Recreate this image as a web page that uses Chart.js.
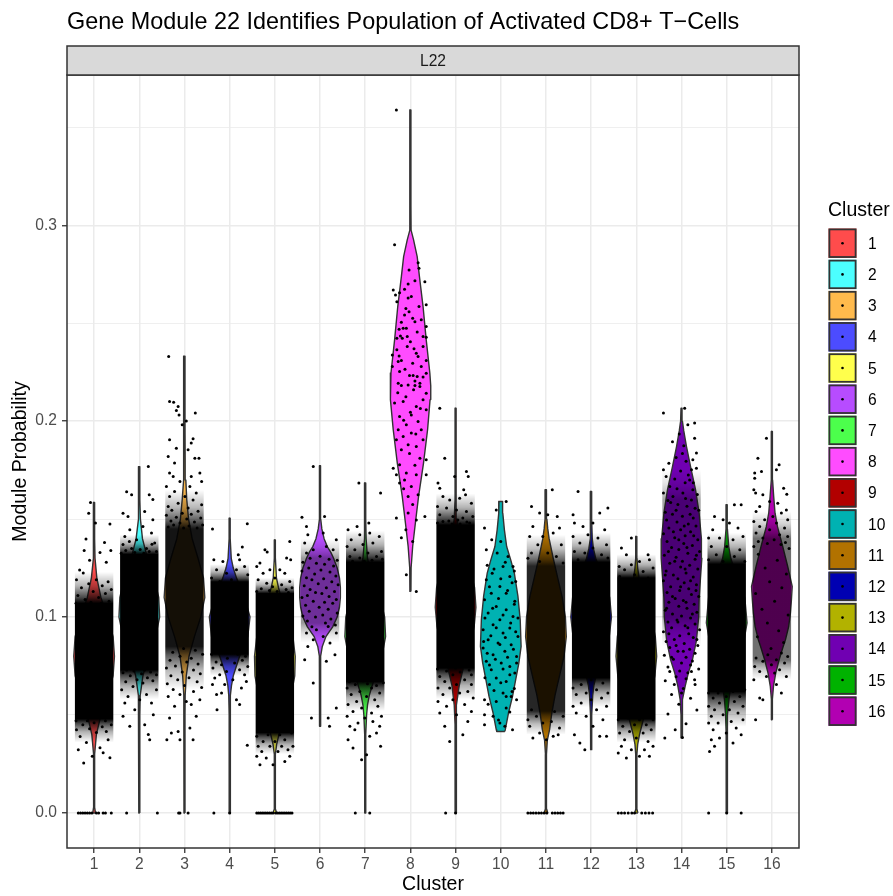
<!DOCTYPE html>
<html>
<head>
<meta charset="utf-8">
<script src="https://cdn.jsdelivr.net/npm/chart.js@4.4.1/dist/chart.umd.min.js"></script>
<style>
  html, body { margin: 0; padding: 0; background: #fff; }
  canvas { display: block; }
</style>
</head>
<body>
<canvas id="chart" width="893" height="896"></canvas>
<script>
// ===== data =====
const titleText = 'Gene Module 22 Identifies Population of Activated CD8+ T\u2212Cells';
const stripLabel = 'L22';
const xTitle = 'Cluster';
const yTitle = 'Module Probability';
const legendTitle = 'Cluster';

const clusters = ['1', '2', '3', '4', '5', '6', '7', '8', '9', '10', '11', '12', '13', '14', '15', '16'];
const fillColors = ['#FF4C4C', '#4CFFFF', '#FFBA4C', '#4C4CFF', '#FFFF4C', '#B74CFF', '#4CFF4C', '#FF4CFF',
                    '#B20000', '#00B2B2', '#B27200', '#0000B2', '#B2B200', '#7000B2', '#00B200', '#B200B2'];

const yTicks = [0, 0.1, 0.2, 0.3];
const yMinorTicks = [0.05, 0.15, 0.25, 0.35];

// violin outline per cluster: [value, half width in cluster units], bottom to top
const violinProfiles = [
  [[0,0.03],[0.003,0.007],[0.02,0.007],[0.03,0.012],[0.04,0.05],[0.05,0.15],[0.06,0.3],[0.07,0.42],[0.08,0.45],[0.09,0.42],[0.1,0.3],[0.11,0.15],[0.12,0.06],[0.13,0.02],[0.14,0.008],[0.1585,0.006]],
  [[0,0.007],[0.05,0.008],[0.06,0.02],[0.07,0.08],[0.08,0.2],[0.09,0.36],[0.1,0.45],[0.11,0.43],[0.12,0.33],[0.13,0.18],[0.14,0.07],[0.15,0.025],[0.16,0.01],[0.1768,0.006]],
  [[0,0.007],[0.05,0.008],[0.06,0.015],[0.07,0.04],[0.08,0.1],[0.09,0.22],[0.1,0.36],[0.11,0.45],[0.12,0.42],[0.13,0.3],[0.14,0.17],[0.15,0.09],[0.16,0.05],[0.17,0.03],[0.18,0.015],[0.2,0.008],[0.2332,0.006]],
  [[0,0.007],[0.05,0.008],[0.06,0.02],[0.065,0.04],[0.07,0.08],[0.08,0.22],[0.09,0.4],[0.1,0.45],[0.11,0.33],[0.12,0.15],[0.125,0.08],[0.13,0.035],[0.14,0.012],[0.1505,0.006]],
  [[0,0.04],[0.002,0.012],[0.005,0.007],[0.02,0.007],[0.03,0.012],[0.035,0.04],[0.04,0.09],[0.05,0.22],[0.06,0.36],[0.07,0.44],[0.08,0.45],[0.09,0.4],[0.1,0.28],[0.11,0.14],[0.115,0.08],[0.12,0.035],[0.13,0.012],[0.1394,0.006]],
  [[0.0442,0.006],[0.07,0.007],[0.08,0.015],[0.085,0.05],[0.09,0.13],[0.095,0.28],[0.1,0.38],[0.105,0.43],[0.11,0.45],[0.115,0.45],[0.12,0.43],[0.125,0.38],[0.13,0.3],[0.133,0.24],[0.136,0.16],[0.14,0.09],[0.145,0.04],[0.15,0.015],[0.16,0.008],[0.1772,0.006]],
  [[0,0.007],[0.03,0.007],[0.04,0.012],[0.05,0.03],[0.055,0.05],[0.06,0.09],[0.07,0.22],[0.08,0.37],[0.09,0.45],[0.1,0.43],[0.11,0.33],[0.12,0.18],[0.125,0.1],[0.13,0.05],[0.14,0.02],[0.15,0.009],[0.1684,0.006]],
  [[0.1131,0.008],[0.125,0.015],[0.136,0.05],[0.148,0.11],[0.1615,0.18],[0.1786,0.29],[0.1956,0.38],[0.211,0.435],[0.218,0.45],[0.2246,0.43],[0.2415,0.35],[0.2585,0.28],[0.2738,0.2],[0.284,0.15],[0.2925,0.07],[0.2975,0.015],[0.31,0.008],[0.3588,0.007]],
  [[0,0.007],[0.03,0.007],[0.045,0.012],[0.055,0.03],[0.065,0.08],[0.075,0.18],[0.085,0.31],[0.095,0.41],[0.105,0.45],[0.115,0.42],[0.125,0.32],[0.135,0.18],[0.14,0.11],[0.145,0.06],[0.15,0.03],[0.16,0.012],[0.18,0.008],[0.2066,0.006]],
  [[0.0416,0.09],[0.0425,0.1],[0.051,0.17],[0.0595,0.26],[0.068,0.33],[0.0765,0.4],[0.085,0.45],[0.0986,0.43],[0.1105,0.38],[0.1224,0.3],[0.1292,0.22],[0.136,0.13],[0.1445,0.08],[0.153,0.045],[0.159,0.04]],
  [[0,0.04],[0.002,0.015],[0.005,0.008],[0.03,0.007],[0.037,0.03],[0.0425,0.08],[0.051,0.13],[0.06,0.2],[0.07,0.3],[0.08,0.4],[0.09,0.45],[0.1,0.43],[0.11,0.36],[0.12,0.26],[0.13,0.16],[0.14,0.07],[0.145,0.04],[0.15,0.02],[0.165,0.006]],
  [[0.0323,0.006],[0.04,0.008],[0.05,0.014],[0.06,0.035],[0.065,0.06],[0.07,0.11],[0.08,0.26],[0.09,0.4],[0.1,0.45],[0.11,0.41],[0.12,0.28],[0.125,0.18],[0.13,0.1],[0.135,0.05],[0.14,0.025],[0.15,0.01],[0.1641,0.006]],
  [[0,0.035],[0.002,0.012],[0.005,0.007],[0.02,0.007],[0.03,0.014],[0.035,0.03],[0.04,0.07],[0.05,0.18],[0.06,0.31],[0.07,0.41],[0.08,0.45],[0.09,0.42],[0.1,0.33],[0.11,0.2],[0.115,0.12],[0.12,0.06],[0.125,0.03],[0.13,0.014],[0.1411,0.006]],
  [[0.0383,0.006],[0.05,0.01],[0.0578,0.03],[0.0646,0.08],[0.0714,0.15],[0.078,0.24],[0.088,0.33],[0.1,0.38],[0.11,0.39],[0.12,0.42],[0.13,0.45],[0.14,0.44],[0.153,0.39],[0.165,0.31],[0.1768,0.2],[0.187,0.11],[0.195,0.05],[0.2,0.02],[0.2066,0.007]],
  [[0,0.007],[0.03,0.007],[0.04,0.012],[0.05,0.025],[0.058,0.05],[0.065,0.09],[0.075,0.22],[0.085,0.36],[0.097,0.45],[0.11,0.4],[0.12,0.25],[0.125,0.16],[0.13,0.09],[0.136,0.045],[0.145,0.015],[0.1573,0.006]],
  [[0.0476,0.006],[0.058,0.01],[0.0646,0.035],[0.0714,0.085],[0.0782,0.16],[0.085,0.25],[0.0884,0.3],[0.095,0.37],[0.102,0.41],[0.108,0.43],[0.1156,0.45],[0.1258,0.35],[0.136,0.24],[0.146,0.125],[0.153,0.07],[0.1615,0.04],[0.17,0.015],[0.18,0.008],[0.1947,0.006]]
];

// value range where the jittered cells merge into one block (null: cells stay apart)
const denseBands = [
  [0.048, 0.107], [0.073, 0.132], [0.085, 0.145], [0.081, 0.118],
  [0.041, 0.112], [0.097, 0.13], [0.067, 0.128], null,
  [0.074, 0.147], null, [0.052, 0.126], [0.069, 0.128],
  [0.048, 0.12], [0.1, 0.16], [0.062, 0.127], [0.078, 0.14]
];
// how far the block thins out below and above it (value units)
const fadeBelow = [0.012, 0.015, 0.022, 0.011, 0.011, 0.01, 0.015, 0, 0.016, 0, 0.012, 0.015, 0.012, 0.015, 0.018, 0.01];
const fadeAbove = [0.016, 0.01, 0.02, 0.009, 0.008, 0.01, 0.016, 0, 0.016, 0, 0.016, 0.015, 0.012, 0.015, 0.016, 0.014];
const bandOpacity = [1, 1, 0.92, 1, 1, 0.4, 1, 0, 1, 0, 0.85, 1, 1, 0.35, 1, 0.56];

// single cells outside the blocks: [jitter offset, value]
const cellPoints = [
  // 1
  [[-0.35,0],[-0.3,0],[-0.25,0],[-0.2,0],[-0.15,0],[-0.1,0],[-0.05,0],[0.05,0],[0.1,0],[0.2,0],[0.25,0],[0.38,0],
   [-0.08,0.1585],[-0.12,0.153],[0.35,0.1475],[0.03,0.148],[-0.18,0.1398],[0.23,0.138],[-0.22,0.134],[0.37,0.134],[0.13,0.133],[-0.1,0.129],[0.27,0.128],[-0.32,0.124],[-0.24,0.1225],[-0.39,0.119],
   [0.05,0.119],[0.31,0.118],[-0.12,0.117],[0.18,0.116],[-0.28,0.115],[0.38,0.114],[-0.02,0.113],[0.25,0.112],[-0.36,0.111],[0.1,0.11],[-0.2,0.109],[0.33,0.108],[-0.07,0.1075],[0.16,0.107],[-0.4,0.107],
   [-0.23,0.0255],[-0.04,0.0289],[0.2,0.0307],[0.35,0.0282],[-0.35,0.0323],[0.13,0.0333],[-0.17,0.0359],[0.31,0.0374],[-0.31,0.039],[0.05,0.041],[0.27,0.0416],[-0.39,0.0425],
   [-0.1,0.043],[0.18,0.044],[-0.25,0.045],[0.38,0.045],[0,0.046],[-0.4,0.047],[0.25,0.047],[-0.15,0.047]],
  // 2
  [[-0.28,0],[0.4,0],
   [-0.28,0.164],[0.2,0.1768],[-0.17,0.1624],[0.22,0.1624],[0.3,0.16],[-0.36,0.153],[-0.25,0.1513],[0.12,0.1539],[0.3,0.1497],[-0.21,0.1445],[0.08,0.1462],[0.27,0.1429],[-0.32,0.1411],[-0.06,0.1394],[0.34,0.1378],[-0.36,0.137],[0.16,0.135],[-0.17,0.135],
   [0.02,0.1345],[-0.3,0.134],[0.38,0.1335],[-0.1,0.133],[0.22,0.1335],[-0.4,0.1325],[0.1,0.1325],[-0.22,0.1385],[0.28,0.1372],
   [0.23,0.0374],[0.2,0.04],[-0.21,0.0442],[0.12,0.045],[-0.36,0.0493],[0.31,0.0501],[-0.1,0.0527],[-0.32,0.0561],[0.27,0.0561],[0.01,0.0578],[-0.25,0.0595],[0.16,0.0604],[-0.39,0.0629],[0.38,0.0629],[-0.14,0.0646],[0.08,0.0663],
   [-0.3,0.067],[0.3,0.0675],[-0.05,0.068],[0.18,0.069],[-0.2,0.07],[0.38,0.0705],[0.05,0.071],[-0.36,0.0715],[0.25,0.072],[-0.12,0.0725],[0.12,0.073],[-0.28,0.073]],
  // 3
  [[-0.13,0],[-0.1,0],[0.08,0],
   [-0.35,0.233],[-0.33,0.21],[-0.24,0.2097],[-0.14,0.2075],[-0.18,0.2054],[-0.12,0.2032],[0.24,0.2041],[-0.05,0.1981],[0.04,0.2001],[-0.33,0.1905],[0.15,0.1888],[0.19,0.191],[-0.18,0.1862],[0.08,0.1854],[-0.36,0.182],[0.32,0.1811],[0.23,0.1811],[-0.22,0.1786],
   [-0.33,0.1735],[-0.25,0.1717],[0.15,0.1717],[0.34,0.1735],[-0.1,0.1692],[0.38,0.1692],[-0.4,0.1666],[0.12,0.1666],[-0.22,0.1641],[0.26,0.1633],[-0.33,0.1615],[0.01,0.1615],[0.19,0.1598],[-0.14,0.1581],[0.38,0.1573],[-0.36,0.1564],[0.08,0.1556],
   [-0.28,0.1545],[0.3,0.154],[-0.05,0.153],[0.15,0.1525],[-0.4,0.152],[-0.18,0.151],[0.36,0.1505],[0.05,0.15],[-0.3,0.149],[0.22,0.1485],[-0.1,0.148],[0.4,0.147],[-0.24,0.147],[0.1,0.1465],[-0.36,0.146],[0.28,0.1455],[-0.02,0.1455],
   [-0.39,0.0374],[-0.1,0.0374],[0.19,0.0374],[-0.29,0.0408],[-0.14,0.0416],[0.12,0.0434],[-0.33,0.0485],[0.26,0.0493],[-0.22,0.0544],[0.15,0.0553],[0.04,0.0569],[0.34,0.0578],[-0.36,0.0595],[-0.1,0.0604],
   [0.2,0.062],[-0.25,0.063],[0.38,0.064],[0,0.065],[-0.38,0.066],[0.28,0.067],[-0.15,0.068],[0.1,0.069],[-0.3,0.07],[0.35,0.071],[-0.05,0.072],[0.2,0.073],[-0.4,0.074],[-0.2,0.075],[0.3,0.076],[0.05,0.077],[-0.32,0.078],[0.15,0.079],[-0.1,0.08],[0.4,0.081],[-0.26,0.082],[0.24,0.083],[-0.02,0.084]],
  // 4
  [[-0.35,0],[0,0],
   [-0.38,0.1449],[0.39,0.1476],[0.28,0.1357],[0.19,0.1318],[-0.35,0.1292],[-0.15,0.1284],[0.22,0.1292],[0.33,0.1258],[-0.29,0.1241],[-0.07,0.1224],[0.15,0.1241],[0.4,0.1216],[-0.4,0.1199],[0.04,0.119],[-0.22,0.1182],
   [0.39,0.0345],[-0.28,0.0527],[0.22,0.0553],[-0.29,0.0604],[-0.18,0.0612],[0.15,0.0578],[0.26,0.0638],[-0.38,0.0655],[0.37,0.0671],[-0.11,0.0655],[-0.33,0.0689],[0.07,0.068],[0.33,0.0706],[-0.22,0.0706],[-0.07,0.0722],[0.22,0.0731],[-0.37,0.074],[0.4,0.0748],[-0.18,0.0757],[0.11,0.0765],
   [-0.3,0.077],[0.28,0.078],[-0.05,0.079],[0.35,0.08],[-0.4,0.081],[0.18,0.081],[-0.15,0.082]],
  // 5
  [[-0.4,0],[-0.36,0],[-0.32,0],[-0.28,0],[-0.24,0],[-0.2,0],[-0.16,0],[-0.12,0],[-0.08,0],[-0.04,0],[0.02,0],[0.06,0],[0.1,0],[0.14,0],[0.18,0],[0.22,0],[0.26,0],[0.3,0],[0.34,0],[0.38,0],
   [-0.22,0.1343],[0.33,0.1386],[-0.17,0.1332],[0.26,0.1301],[0.35,0.1292],[-0.33,0.1276],[-0.4,0.1258],[-0.11,0.1241],[0.11,0.1241],[-0.26,0.1224],[0.22,0.1224],[-0.37,0.119],[0,0.1199],[0.33,0.1182],[-0.18,0.1173],[0.15,0.1165],
   [-0.05,0.1155],[0.38,0.115],[-0.3,0.1145],[0.25,0.114],[-0.12,0.1135],[0.05,0.113],[-0.4,0.113],[0.3,0.1125],
   [-0.33,0.0246],[-0.04,0.0246],[0.22,0.0263],[-0.4,0.0289],[-0.19,0.028],[0.33,0.0289],[-0.29,0.0314],[0.07,0.0314],[0.29,0.0323],[-0.37,0.034],[-0.11,0.034],[0.15,0.034],[0.4,0.034],[-0.26,0.0365],[0,0.0365],[0.22,0.0374],[-0.4,0.0391],[-0.15,0.0399],[0.11,0.0399],[0.37,0.0408]],
  // 6
  [[-0.15,0.1768],[0.1,0.1513],[-0.4,0.151],[-0.3,0.1462],[-0.27,0.142],[0.07,0.1429],[0.36,0.1394],[-0.34,0.1378],[0.14,0.136],[-0.15,0.1343],[0.29,0.1343],[-0.3,0.1327],
   [0,0.131],[-0.22,0.13],[0.2,0.1295],[0.38,0.129],[-0.38,0.128],[-0.08,0.1275],[0.1,0.127],[0.3,0.126],[-0.25,0.125],[0.02,0.124],[-0.4,0.1235],[0.22,0.123],[-0.12,0.122],[0.35,0.121],[-0.3,0.12],[0.08,0.1195],[-0.18,0.119],[0.26,0.118],[-0.04,0.117],[0.4,0.1165],[-0.35,0.116],[0.14,0.115],[-0.22,0.114],[0.32,0.113],[-0.1,0.1125],[0.04,0.112],[-0.28,0.111],[0.2,0.1105],[-0.4,0.11],[0.36,0.109],[-0.15,0.108],[0.1,0.1075],[0.28,0.107],[-0.32,0.106],[-0.02,0.105],[0.18,0.104],[-0.24,0.103],[0.38,0.102],[0.06,0.101],[-0.38,0.1005],[-0.1,0.1],[0.24,0.099],[-0.28,0.098],[0.12,0.097],[0.34,0.096],[-0.18,0.095],
   [-0.3,0.0918],[0.36,0.0918],[-0.08,0.0935],[0.18,0.0952],[0.07,0.0901],[-0.15,0.0884],[0.22,0.0867],[-0.27,0.085],[0.33,0.0808],[0.14,0.0774],[-0.34,0.0782],[-0.15,0.0663],[0.36,0.0536],[-0.19,0.0485],[0.18,0.0485],[0.21,0.0442]],
  // 7
  [[-0.22,0],[0.1,0],
   [-0.14,0.1684],[0.34,0.1633],[-0.38,0.1445],[-0.18,0.1462],[0.08,0.148],[0.1,0.1429],[0.31,0.1411],[-0.12,0.142],[-0.31,0.1394],[0.17,0.1378],[-0.05,0.137],[-0.4,0.136],[0.36,0.1335],[-0.23,0.1343],[0.06,0.1327],[0.25,0.1309],[-0.34,0.1309],[-0.12,0.1301],
   [0.38,0.1295],[0.15,0.129],[-0.28,0.1285],[-0.02,0.1285],
   [-0.27,0.0332],[-0.08,0.0272],[0.03,0.0297],[-0.38,0.0374],[0.34,0.034],[0.25,0.0408],[-0.23,0.0425],[0.1,0.0391],[-0.34,0.0442],[0.32,0.0442],[-0.16,0.0459],[0.17,0.0467],[-0.4,0.0493],[-0.01,0.0485],[0.36,0.0493],[-0.27,0.0518],[0.14,0.051],[-0.08,0.0536],[0.28,0.0544],[-0.38,0.0553],[-0.19,0.0569],[0.21,0.0578],[0.03,0.0595],[-0.31,0.0604],[0.32,0.0612],[-0.12,0.062],[0.14,0.0638],[-0.4,0.0638],
   [0.25,0.065],[-0.22,0.0655],[0.05,0.066],[0.4,0.0665],[-0.35,0.067],[-0.05,0.0675]],
  // 8
  [[-0.31,0.3588],[-0.35,0.29],[0.17,0.2809],[0.19,0.278],[-0.03,0.2772],[0.32,0.2712],[0.1,0.2717],[-0.05,0.27],[-0.38,0.267],[-0.33,0.2644],[-0.24,0.2655],[-0.13,0.2673],[-0.3,0.261],[-0.05,0.2628],[0.02,0.2636],[0.19,0.2585],[0.35,0.2594],[-0.03,0.2559],[-0.13,0.2542],[0.1,0.2508],[0.24,0.2517],[0.35,0.2483],
   [-0.25,0.2469],[-0.16,0.2474],[-0.09,0.2474],[-0.3,0.2423],[-0.22,0.2435],[-0.07,0.2432],[-0.18,0.2423],[0.28,0.2432],[0.35,0.2428],[-0.07,0.2381],[0.28,0.2381],[-0.4,0.2338],[-0.25,0.2333],[-0.2,0.2309],[-0.27,0.2304],[0.13,0.2347],[0.17,0.233],[0.35,0.2309],[-0.4,0.2279],[0.24,0.2279],
   [-0.24,0.2253],[-0.02,0.2233],[0.06,0.2233],[0.15,0.2228],[0.35,0.2245],[-0.27,0.2194],[-0.2,0.2182],[0.1,0.2182],[0.21,0.2194],[-0.05,0.2185],[0.21,0.2177],[0.07,0.216],[0.35,0.2143],[-0.35,0.2092],[-0.16,0.21],[0.13,0.2075],[0.28,0.2109],[0.35,0.2058],
   [-0.24,0.2024],[0.02,0.2032],[0.17,0.1998],[-0.09,0.1981],[-0.27,0.1956],[0.24,0.1956],[0.02,0.1939],[-0.16,0.1921],[0.28,0.1905],[-0.31,0.1905],[-0.05,0.1879],[0.13,0.187],[-0.2,0.1854],[0.35,0.1803],[0.21,0.1811],[-0.38,0.176],[-0.24,0.1777],
   [-0.31,0.1726],[-0.09,0.1735],[0.13,0.1726],[0.35,0.1726],[-0.13,0.17],[0.02,0.1666],[-0.24,0.1684],[-0.05,0.1615],[0.17,0.1624],[-0.05,0.1531],[0.32,0.1513],[-0.31,0.1505],[0.13,0.1496],[-0.09,0.1216],[0.13,0.1131],
   [0,0.2045],[-0.1,0.2125],[0.1,0.2205],[-0.12,0.2265],[0.05,0.2295],[-0.3,0.2365],[0,0.2405],[0.15,0.2455],[-0.2,0.2505],[0.05,0.2525],[-0.1,0.2575],[0.22,0.2065],[-0.28,0.2145],[0.28,0.2225],[0.08,0.237],[-0.15,0.2005],[0.12,0.1935],[-0.02,0.1835],[0.1,0.1775],[-0.15,0.1655],[0.05,0.1575],[-0.1,0.1445],[0.05,0.1385],[-0.2,0.1405]],
  // 9
  [[-0.22,0],[0,0],
   [-0.35,0.2066],[-0.24,0.1811],[-0.02,0.1717],[0.24,0.1743],[0.28,0.1717],[-0.39,0.1684],[-0.35,0.1658],[0.18,0.165],[0.22,0.1624],[-0.28,0.1615],[-0.13,0.1598],[0.09,0.1607],[0.35,0.1581],[-0.4,0.1564],[-0.2,0.1556],[0.02,0.1547],[0.24,0.1539],[-0.35,0.1522],[-0.06,0.1513],[0.16,0.1505],[0.38,0.1513],[-0.28,0.1488],[0.31,0.148],
   [0.05,0.1495],[-0.15,0.149],[0.25,0.1485],[-0.4,0.148],[0.1,0.1475],[-0.08,0.1475],
   [-0.13,0.0365],[0.16,0.0399],[-0.24,0.0442],[0.27,0.0467],[-0.35,0.051],[0.02,0.0501],[0.35,0.0518],[-0.2,0.0544],[0.2,0.0553],[-0.39,0.0569],[-0.06,0.0578],[0.39,0.0587],[-0.28,0.0604],[0.09,0.0612],[0.27,0.062],[-0.39,0.0638],[-0.13,0.0638],[0.02,0.0655],[0.35,0.0655],[-0.24,0.0671],[0.2,0.068],[-0.35,0.0697],[-0.06,0.0706],[0.35,0.0706],
   [0.1,0.072],[-0.2,0.0725],[0.3,0.073],[-0.4,0.0735],[0,0.074]],
  // 10
  [[0.12,0.159],[-0.1,0.1547],[-0.36,0.1454],[-0.32,0.1343],[-0.08,0.1327],[0.16,0.1309],[0.05,0.1258],[0.27,0.1258],[-0.19,0.1224],[0.2,0.1207],[-0.32,0.119],[0.33,0.1182],[-0.02,0.1156],[0.12,0.1122],[-0.21,0.1122],[-0.36,0.1088],[0.31,0.108],[-0.1,0.1054],[0.12,0.1037],[-0.28,0.102],[0.27,0.1003],[-0.02,0.0986],[-0.17,0.0961],[-0.39,0.0935],[0.2,0.0944],[0.05,0.0918],[0.38,0.0901],[-0.28,0.0884],[-0.06,0.0867],[0.23,0.0859],[-0.39,0.0842],[0.09,0.0825],[-0.17,0.0808],[0.35,0.0799],[-0.32,0.0774],[0.01,0.0765],[0.2,0.0748],[-0.21,0.0731],[0.31,0.0714],[-0.1,0.0689],[0.12,0.0671],[-0.25,0.0655],[-0.36,0.0578],[0.05,0.0612],[0.23,0.0595],[-0.1,0.0569],[0.12,0.0536],[0.35,0.0578],[-0.17,0.0493],[-0.36,0.0501],[-0.36,0.045],[-0.02,0.0459],[0.26,0.0425],[0.09,0.0442],
   [0.1,0.128],[-0.15,0.1245],[0,0.1195],[0.25,0.1175],[-0.25,0.1155],[0.15,0.1135],[-0.05,0.1095],[0.3,0.1065],[-0.18,0.1045],[0.05,0.101],[-0.35,0.0995],[0.22,0.097],[-0.1,0.0945],[0.33,0.0925],[-0.22,0.0905],[0.1,0.0895],[-0.02,0.086],[0.28,0.0835],[-0.3,0.0815],[0.15,0.0795],[-0.12,0.0785],[0.35,0.0765],[-0.25,0.0755],[0.05,0.0735],[0.2,0.0705],[-0.35,0.069],[0,0.0665],[0.3,0.0635],[-0.15,0.0625],[0.12,0.0595],[-0.28,0.0555],[0.2,0.0515],[-0.05,0.0475],[0.25,0.062],[-0.38,0.0875],[0.38,0.0995],[-0.3,0.1265],[0.3,0.1235],[0,0.1385],[-0.2,0.1395]],
  // 11
  [[-0.4,0],[-0.34,0],[-0.28,0],[-0.22,0],[-0.16,0],[-0.1,0],[-0.04,0],[0.02,0],[0.14,0],[0.2,0],[0.26,0],[0.32,0],[0.38,0],
   [-0.32,0.1564],[0.14,0.165],[-0.14,0.1531],[0.04,0.1522],[0.25,0.1513],[-0.29,0.1462],[0.3,0.1454],[-0.36,0.1411],[-0.07,0.1411],[0.16,0.1429],[-0.18,0.1369],[0.34,0.1369],[-0.32,0.1327],[0.04,0.1327],[0.23,0.1309],[-0.4,0.13],[-0.14,0.1284],[0.38,0.1276],
   [-0.36,0.0442],[0.3,0.0434],[-0.14,0.0408],[0.16,0.0391],[-0.29,0.0383],[0.01,0.0374],[0.27,0.0399],[-0.4,0.0476],[-0.07,0.0459],[0.12,0.0467],[-0.21,0.0493],[0.38,0.0493],[-0.32,0.0527],[0.19,0.0518]],
  // 12
  [[-0.29,0.1641],[-0.4,0.1522],[-0.37,0.148],[-0.18,0.1462],[0.19,0.1531],[0.37,0.1556],[0.04,0.148],[0.3,0.1445],[-0.4,0.1411],[-0.07,0.142],[0.15,0.1403],[-0.25,0.1378],[0.34,0.1369],[0.04,0.1352],[-0.37,0.1335],[-0.14,0.1327],[0.23,0.1318],[0.37,0.1301],[-0.29,0.1292],
   [-0.14,0.0323],[-0.25,0.0357],[0.19,0.0391],[0.34,0.0391],[-0.37,0.0399],[0.04,0.0442],[0.26,0.0476],[-0.33,0.051],[-0.11,0.0493],[0.12,0.0527],[0.34,0.0544],[-0.4,0.0544],[-0.22,0.0561],[0,0.0578],[0.23,0.0587],[-0.33,0.0604],[-0.11,0.0612],[0.37,0.0612],[0.12,0.0629],[-0.4,0.0638],[-0.22,0.0655],[0.26,0.0663],[0,0.068]],
  // 13
  [[-0.4,0],[-0.33,0],[-0.26,0],[-0.18,0],[-0.1,0],[-0.04,0],[0.12,0],[0.2,0],[0.28,0],[0.36,0],
   [-0.11,0.1403],[-0.33,0.1352],[-0.22,0.1318],[0.26,0.1318],[-0.38,0.1258],[0.07,0.1284],[-0.11,0.1267],[0.29,0.1292],[0.37,0.125],[-0.26,0.1241],[0.15,0.1233],[-0.04,0.1216],[-0.37,0.1207],[0.26,0.1199],
   [-0.4,0.0306],[-0.22,0.028],[0.07,0.0289],[0.29,0.0289],[-0.33,0.034],[-0.11,0.0323],[0.18,0.0323],[0.37,0.034],[-0.26,0.0374],[0,0.0383],[0.26,0.0365],[-0.37,0.0408],[-0.15,0.0416],[0.15,0.0408],[0.33,0.0425],[-0.3,0.0442],[-0.04,0.045],[0.22,0.045],[-0.4,0.0476],[0.07,0.0476],[0.37,0.0476],[-0.19,0.0485]],
  // 14
  [[-0.4,0.2041],[0.07,0.2066],[0.29,0.199],[0.14,0.1981],[0.29,0.1913],[0.33,0.1837],[0.25,0.1803],[0.33,0.176],[0.22,0.1752],[-0.4,0.1752],[-0.34,0.1717],[0.18,0.17],[-0.26,0.1666],[0.25,0.165],[-0.4,0.1633],[-0.19,0.1615],[0.03,0.1633],[0.22,0.1598],
   [-0.05,0.1935],[0.05,0.1875],[-0.12,0.1815],[0.1,0.1795],[-0.02,0.1745],[-0.15,0.1705],[0.08,0.1685],[0.35,0.1625],[-0.3,0.1595],[-0.08,0.1575],[0.12,0.1565],[0.38,0.1545],[-0.36,0.1535],[-0.2,0.1525],[0.02,0.1515],[0.26,0.1505],[-0.1,0.1485],[0.15,0.1475],[0.32,0.1465],[-0.28,0.1455],[-0.02,0.1445],[0.2,0.1435],[-0.4,0.1425],[0.08,0.1415],[-0.15,0.1405],[0.36,0.1395],[-0.32,0.1385],[0.05,0.1375],[0.24,0.1365],[-0.22,0.1355],[-0.06,0.1345],[0.4,0.1335],[0.14,0.1325],[-0.38,0.1315],[-0.12,0.1305],[0.3,0.1295],[0.02,0.1285],[-0.26,0.1275],[0.18,0.1265],[-0.02,0.1255],[0.36,0.1245],[-0.34,0.1235],[0.1,0.1225],[-0.18,0.1215],[0.26,0.1205],[-0.08,0.1195],[-0.4,0.1185],[0.06,0.1175],[0.33,0.1165],[-0.24,0.1155],[0.16,0.1145],[-0.04,0.1135],[-0.32,0.1125],[0.22,0.1115],[0.38,0.1105],[-0.14,0.1095],[0.04,0.1085],[-0.28,0.1075],[0.28,0.1065],[-0.06,0.1055],[0.12,0.1045],[-0.36,0.1035],[0.34,0.1025],[-0.2,0.1015],[0,0.1005],[0.2,0.0995],[-0.1,0.0985],[-0.3,0.0975],[0.3,0.0965],[0.08,0.0955],[-0.22,0.0945],[0.4,0.0935],[-0.4,0.0925],[0.16,0.0915],[-0.04,0.0905],[0.26,0.0895],[-0.16,0.0885],[-0.34,0.0875],[0.06,0.0865],[0.36,0.0855],[-0.26,0.0845],[0.18,0.0835],[-0.08,0.0825],[0.3,0.0815],[-0.38,0.0805],[0.1,0.0795],[-0.18,0.0785],[0.24,0.0775],[0,0.0765],[-0.3,0.0745],[0.38,0.0735],[0.14,0.0715],[-0.12,0.0695],[-0.36,0.0675],[0.3,0.0655],[0.04,0.0635],[-0.22,0.0605],[0.2,0.0585],[-0.06,0.0555],[0.34,0.0525],[-0.3,0.0505],[0.1,0.0455],[-0.14,0.0425],[0.02,0.0385],
   [-0.37,0.0383],[0.29,0.068],[0.22,0.0722],[-0.26,0.0722],[0,0.0612],
   [0.09,0.1605],[-0.24,0.1585],[0.3,0.1555],[-0.12,0.1545],[0.19,0.1525],[-0.33,0.1495],[0.06,0.1465],[-0.18,0.1435],[0.27,0.1415],[-0.06,0.1395],[0.12,0.1355],[-0.29,0.1335],[0.33,0.1315],[-0.15,0.1285],[0.08,0.1245],[-0.36,0.1215],[0.2,0.1185],[-0.02,0.1155],[0.32,0.1135],[-0.2,0.1105],[0.1,0.1075],[-0.33,0.1045],[0.24,0.1015],[-0.08,0.0975],[0.14,0.0945],[-0.28,0.0915],[0.34,0.0885],[-0.12,0.0855],[0.04,0.0825],[-0.22,0.0795],[0.2,0.0755],[-0.04,0.0725],[0.1,0.0685],[-0.16,0.0655],[0.26,0.1685],[-0.1,0.1655],[0.15,0.1725],[-0.28,0.1785],[0.02,0.1835],[-0.2,0.1895]],
  // 15
  [[-0.4,0],[0,0],[0.32,0],
   [-0.27,0.1513],[-0.08,0.1497],[0.17,0.1573],[0.32,0.1573],[0.06,0.148],[-0.31,0.1445],[0.25,0.1454],[-0.4,0.1403],[-0.16,0.1403],[0.14,0.1394],[0.36,0.1411],[-0.34,0.136],[0,0.136],[0.29,0.1343],[-0.23,0.1318],[0.17,0.1309],[-0.4,0.1292],[-0.08,0.1284],[0.4,0.1284],
   [-0.38,0.0314],[-0.27,0.034],[0.14,0.0357],[0.32,0.0399],[-0.34,0.0374],[-0.16,0.0383],[-0.01,0.0408],[-0.3,0.0425],[0.21,0.0434],[-0.4,0.0459],[-0.19,0.0459],[0.1,0.0467],[0.36,0.0476],[-0.34,0.0493],[-0.08,0.0501],[0.25,0.051],[-0.27,0.0527],[0.06,0.0527],[-0.4,0.0544],[0.36,0.0544],[-0.16,0.0561],[0.17,0.0569],[-0.3,0.0587],[-0.01,0.0595],[0.29,0.0595],[-0.4,0.0612],[-0.19,0.0612],[0.14,0.062],[0.4,0.0629]],
  // 16
  [[-0.12,0.1913],[-0.31,0.1811],[0.16,0.1777],[0.1,0.1752],[-0.38,0.1735],[-0.23,0.1743],[-0.38,0.1709],[0.26,0.1658],[-0.4,0.165],[-0.36,0.1633],[0.33,0.1627],[-0.2,0.1624],[0.13,0.1581],[-0.05,0.159],[-0.27,0.1564],[0.32,0.1547],[-0.35,0.1539],[0.21,0.1531],[0.02,0.1513],[-0.16,0.1497],[0.35,0.1497],[-0.4,0.1488],[0.1,0.148],[-0.27,0.1462],[0.28,0.1454],[-0.05,0.1445],[-0.35,0.1429],[0.17,0.142],[0.35,0.1411],[-0.2,0.1403],
   [0.05,0.1395],[-0.3,0.1385],[0.3,0.138],[-0.1,0.1375],[0.2,0.137],[-0.4,0.136],[0.38,0.135],
   [-0.36,0.0476],[-0.27,0.0587],[-0.2,0.0578],[0.1,0.0655],[0.21,0.0612],[-0.4,0.068],[-0.12,0.0697],[0.06,0.0714],[0.32,0.0697],[-0.27,0.0722],[0.17,0.0731],[-0.38,0.0748],[-0.01,0.0757],[0.28,0.0765],[-0.2,0.0774],[0.1,0.0782],[-0.35,0.0791],[0.35,0.0799],[-0.09,0.0808],[0.21,0.0816],
   [-0.3,0.132],[0.12,0.129],[-0.15,0.125],[0.32,0.122],[-0.05,0.118],[0.22,0.115],[-0.36,0.112],[0.06,0.108],[-0.22,0.104],[0.36,0.101],[-0.1,0.097],[0.15,0.093],[-0.32,0.09],[0.26,0.087],[-0.02,0.084]]
];

// ===== drawing =====
const FONT = '"Liberation Sans", Arial, Helvetica, sans-serif';
const JITTER = 0.4;          // jitter half width in cluster units
const DOT = 1.5;             // cell dot radius, px
const MIN_HALF = 0.011;      // violin tails drawn at least this wide

Chart.defaults.font.family = FONT;

function violinOutline(k) {
  const prof = violinProfiles[k];
  const x0 = k + 1;
  const right = prof.map(([v, w]) => ({ x: x0 + Math.max(w, MIN_HALF), y: v }));
  const left = prof.slice().reverse().map(([v, w]) => ({ x: x0 - Math.max(w, MIN_HALF), y: v }));
  const pts = right.concat(left);
  pts.push(pts[0]);
  return pts;
}

function bandShape(k) {
  const [lo, hi] = denseBands[k];
  const bot = lo - fadeBelow[k], top = hi + fadeAbove[k];
  const x0 = k + 1, h = JITTER + 0.025;
  return [{ x: x0 - h, y: bot }, { x: x0 + h, y: bot }, { x: x0 + h, y: top }, { x: x0 - h, y: top }, { x: x0 - h, y: bot }];
}

// block is solid inside the band and thins out over the fade zones
function bandFill(k) {
  return (c) => {
    const chart = c.chart;
    if (!chart.chartArea) return 'rgba(0,0,0,0)';
    const ys = chart.scales.y;
    const [lo, hi] = denseBands[k];
    const op = bandOpacity[k];
    const yb = ys.getPixelForValue(lo - fadeBelow[k]);
    const yt = ys.getPixelForValue(hi + fadeAbove[k]);
    const span = yb - yt;
    const sLo = (yb - ys.getPixelForValue(lo)) / span;
    const sHi = (yb - ys.getPixelForValue(hi)) / span;
    const g = chart.ctx.createLinearGradient(0, yb, 0, yt);
    const a = f => `rgba(0,0,0,${(op * f).toFixed(3)})`;
    g.addColorStop(0, a(0));
    g.addColorStop(sLo * 0.45, a(0.3));
    g.addColorStop(sLo * 0.8, a(0.7));
    g.addColorStop(sLo, a(1));
    g.addColorStop(sHi, a(1));
    g.addColorStop(sHi + (1 - sHi) * 0.2, a(0.7));
    g.addColorStop(sHi + (1 - sHi) * 0.55, a(0.3));
    g.addColorStop(1, a(0));
    return g;
  };
}

const datasets = [];
clusters.forEach((c, k) => {
  datasets.push({
    type: 'line', label: 'violin ' + c, data: violinOutline(k),
    backgroundColor: fillColors[k], borderColor: '#333333', borderWidth: 1.4,
    borderJoinStyle: 'round', fill: 'shape', pointRadius: 0, tension: 0, order: 3
  });
});
denseBands.forEach((b, k) => {
  if (!b) return;
  datasets.push({
    type: 'line', label: 'band ' + clusters[k], data: bandShape(k),
    backgroundColor: bandFill(k), borderColor: 'rgba(0,0,0,0)', borderWidth: 0,
    fill: 'shape', pointRadius: 0, tension: 0, order: 2
  });
});
const cellData = [];
cellPoints.forEach((pts, k) => pts.forEach(([dx, v]) => cellData.push({ x: k + 1 + dx, y: v })));
datasets.push({
  type: 'scatter', label: 'cells', data: cellData,
  pointRadius: DOT, pointHoverRadius: DOT, backgroundColor: '#000000', borderWidth: 0, order: 1
});

const isMajor = v => yTicks.some(t => Math.abs(t - v) < 1e-9);

// title, facet strip, panel border and legend
const decor = {
  id: 'decor',
  afterDraw(chart) {
    const { ctx, chartArea: a } = chart;
    ctx.save();
    ctx.strokeStyle = '#333333';
    ctx.lineWidth = 1.5;
    ctx.strokeRect(a.left, a.top, a.right - a.left, a.bottom - a.top);

    const stripTop = 46;
    ctx.fillStyle = '#D9D9D9';
    ctx.fillRect(a.left, stripTop, a.right - a.left, a.top - stripTop);
    ctx.strokeRect(a.left, stripTop, a.right - a.left, a.top - stripTop);
    ctx.fillStyle = '#1A1A1A';
    ctx.font = '15.6px ' + FONT;
    ctx.textAlign = 'center';
    ctx.textBaseline = 'alphabetic';
    ctx.fillText(stripLabel, (a.left + a.right) / 2, 66);

    ctx.fillStyle = '#000000';
    ctx.font = '23.4px ' + FONT;
    ctx.textAlign = 'left';
    ctx.fillText(titleText, a.left, 29);

    // legend
    const lx = 828;
    ctx.font = '19.5px ' + FONT;
    ctx.fillText(legendTitle, lx, 216);
    ctx.font = '15.6px ' + FONT;
    clusters.forEach((c, k) => {
      const y = 228.5 + k * 31.2;
      ctx.fillStyle = fillColors[k];
      ctx.fillRect(lx + 0.5, y, 28, 29.4);
      ctx.strokeStyle = '#333333';
      ctx.lineWidth = 1.8;
      ctx.strokeRect(lx + 1.4, y + 0.9, 26.2, 27.6);
      ctx.fillStyle = '#000000';
      ctx.beginPath();
      ctx.arc(lx + 14.5, y + 14.7, 1.3, 0, Math.PI * 2);
      ctx.fill();
      ctx.fillText(c, lx + 40, y + 20.3);
    });
    ctx.restore();
  }
};

new Chart(document.getElementById('chart'), {
  type: 'scatter',
  data: { datasets },
  options: {
    responsive: false,
    animation: false,
    events: [],
    layout: { padding: { top: 75, right: 94, left: 0, bottom: 0 } },
    plugins: { legend: { display: false }, tooltip: { enabled: false } },
    scales: {
      x: {
        type: 'linear', min: 0.4, max: 16.6,
        afterBuildTicks: s => { s.ticks = clusters.map((c, i) => ({ value: i + 1 })); },
        afterFit: s => { s.height = 48; },
        ticks: {
          autoSkip: false, maxRotation: 0, padding: 2, color: '#4D4D4D',
          font: { size: 15.6 }, callback: v => clusters[Math.round(v) - 1]
        },
        grid: { color: '#EBEBEB', lineWidth: 1.5, tickLength: 5, tickColor: '#333333', tickWidth: 1.3 },
        border: { display: false },
        title: { display: true, text: xTitle, color: '#000000', font: { size: 19.5 }, padding: { top: 0, bottom: 0 } }
      },
      y: {
        type: 'linear', min: -0.0179, max: 0.3767,
        afterBuildTicks: s => { s.ticks = yTicks.concat(yMinorTicks).sort((a, b) => a - b).map(v => ({ value: v })); },
        afterFit: s => { s.width = 67; },
        ticks: {
          autoSkip: false, padding: 5, color: '#4D4D4D', font: { size: 15.6 },
          callback: v => isMajor(v) ? v.toFixed(1) : ''
        },
        grid: {
          color: '#EBEBEB',
          lineWidth: c => isMajor(c.tick.value) ? 1.5 : 0.8,
          tickLength: 5,
          tickColor: c => isMajor(c.tick.value) ? '#333333' : 'rgba(0,0,0,0)',
          tickWidth: 1.3
        },
        border: { display: false },
        title: { display: true, text: yTitle, color: '#000000', font: { size: 19.5 }, padding: { top: 9, bottom: 0 } }
      }
    }
  },
  plugins: [decor]
});
</script>
</body>
</html>
